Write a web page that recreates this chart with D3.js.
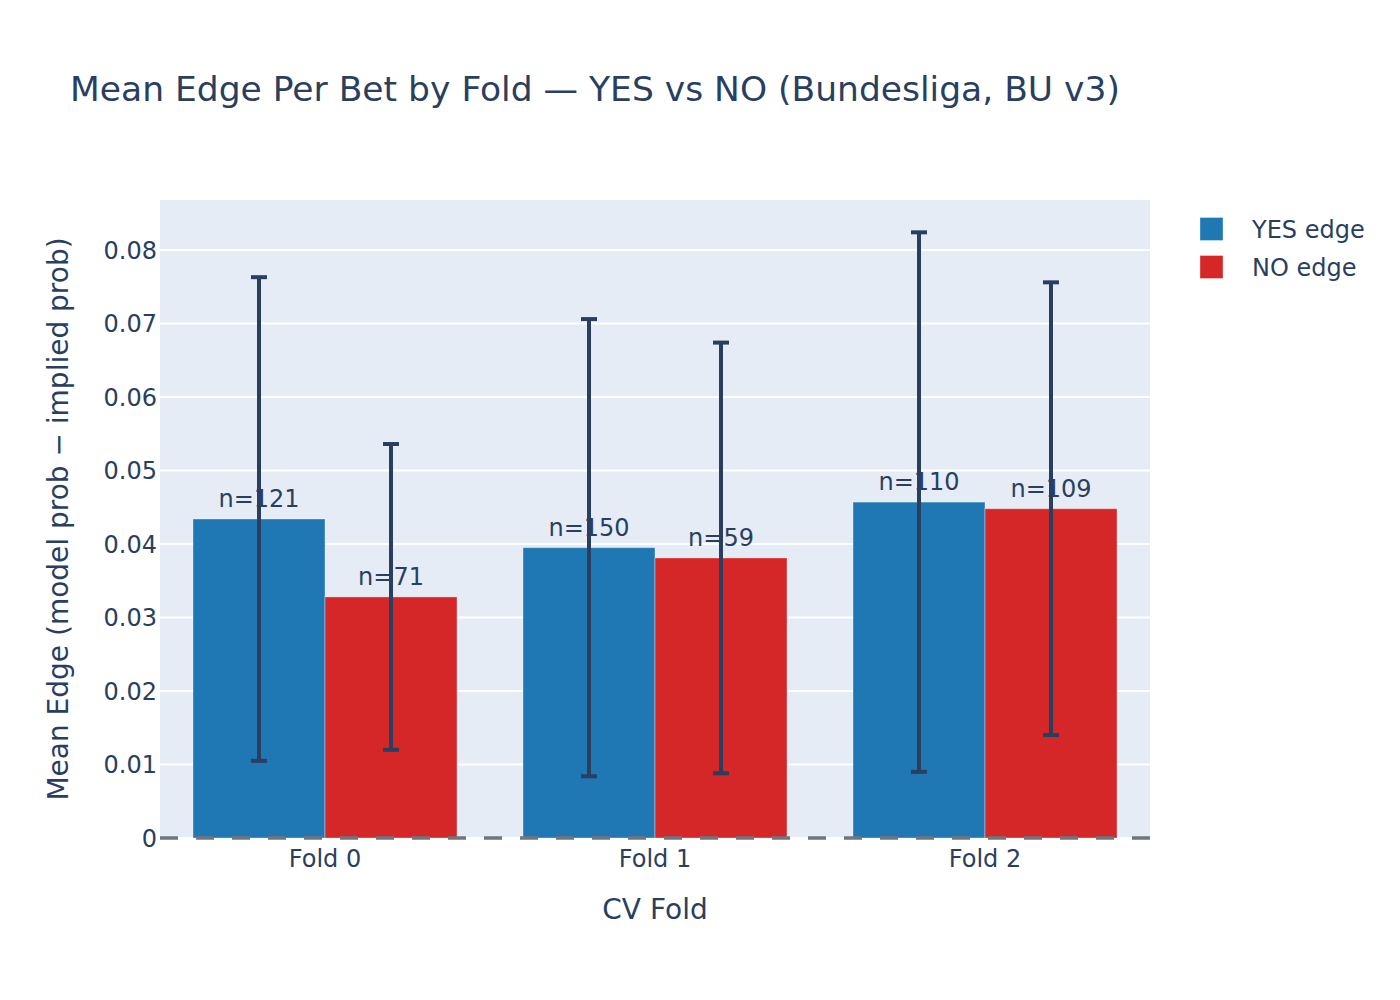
<!DOCTYPE html>
<meta charset="utf-8">
<style>
body { margin: 0; background: #fff; }
text { font-family: "DejaVu Sans", Verdana, sans-serif; fill: #2a3f5f; }
</style>
<svg></svg>
<script src="https://d3js.org/d3.v7.min.js"></script>
<script>

var folds = ["Fold 0", "Fold 1", "Fold 2"];
var seriesNames = ["YES edge", "NO edge"];
var yesMean = [0.0434, 0.0395, 0.0457];
var yesErr = [0.0329, 0.0311, 0.0367];
var yesN = [121, 150, 110];
var noMean = [0.0328, 0.0381, 0.0448];
var noErr = [0.0208, 0.0293, 0.0308];
var noN = [71, 59, 109];
var yTicks = [0, 0.01, 0.02, 0.03, 0.04, 0.05, 0.06, 0.07, 0.08];
var colors = ["#1f77b4", "#d62728"];

var width = 1400, height = 1000;
var margin = {top: 200, right: 250, bottom: 162, left: 160};

var svg = d3.select("svg")
    .attr("width", width)
    .attr("height", height);

var x = d3.scaleBand()
    .domain(folds)
    .range([margin.left, width - margin.right])
    .paddingInner(0.2)
    .paddingOuter(0.1);

var xs = d3.scaleBand()
    .domain(seriesNames)
    .range([0, x.bandwidth()]);

var y = d3.scaleLinear()
    .domain([0, 0.0868])
    .range([height - margin.bottom, margin.top]);

// plot background
svg.append("rect")
    .attr("x", margin.left)
    .attr("y", margin.top)
    .attr("width", width - margin.left - margin.right)
    .attr("height", height - margin.top - margin.bottom)
    .attr("fill", "#e5ecf6");

// grid
svg.append("g").selectAll("line")
    .data(yTicks)
  .enter().append("line")
    .attr("x1", margin.left)
    .attr("x2", width - margin.right)
    .attr("y1", function(d) { return y(d); })
    .attr("y2", function(d) { return y(d); })
    .attr("stroke", "#fff")
    .attr("stroke-width", 2);

var data = [];
folds.forEach(function(f, i) {
  data.push({fold: f, s: seriesNames[0], v: yesMean[i], e: yesErr[i], n: yesN[i], c: colors[0]});
  data.push({fold: f, s: seriesNames[1], v: noMean[i], e: noErr[i], n: noN[i], c: colors[1]});
});

function cx(d) { return x(d.fold) + xs(d.s) + xs.bandwidth() / 2; }

svg.append("g").selectAll("rect")
    .data(data)
  .enter().append("rect")
    .attr("x", function(d) { return x(d.fold) + xs(d.s); })
    .attr("y", function(d) { return y(d.v); })
    .attr("width", xs.bandwidth())
    .attr("height", function(d) { return y(0) - y(d.v); })
    .attr("fill", function(d) { return d.c; })
    .attr("stroke", "rgba(255,255,255,0.35)")
    .attr("stroke-width", 1);

// n labels
svg.append("g").selectAll("text")
    .data(data)
  .enter().append("text")
    .attr("x", cx)
    .attr("y", function(d) { return y(d.v) - 12; })
    .attr("text-anchor", "middle")
    .style("font-size", "24px")
    .text(function(d) { return "n=" + d.n; });

// zero line
svg.append("line")
    .attr("x1", margin.left)
    .attr("x2", width - margin.right)
    .attr("y1", y(0))
    .attr("y2", y(0))
    .attr("stroke", "#70757e")
    .attr("stroke-width", 3.5)
    .attr("stroke-dasharray", "18,18");

// error bars
var eb = svg.append("g").selectAll("g")
    .data(data)
  .enter().append("g")
    .attr("stroke", "#2a3f5f")
    .attr("stroke-width", 4);

eb.append("line")
    .attr("x1", cx).attr("x2", cx)
    .attr("y1", function(d) { return y(d.v + d.e); })
    .attr("y2", function(d) { return y(d.v - d.e); });
eb.append("line")
    .attr("x1", function(d) { return cx(d) - 8; })
    .attr("x2", function(d) { return cx(d) + 8; })
    .attr("y1", function(d) { return y(d.v + d.e); })
    .attr("y2", function(d) { return y(d.v + d.e); });
eb.append("line")
    .attr("x1", function(d) { return cx(d) - 8; })
    .attr("x2", function(d) { return cx(d) + 8; })
    .attr("y1", function(d) { return y(d.v - d.e); })
    .attr("y2", function(d) { return y(d.v - d.e); });

// y tick labels
svg.append("g").selectAll("text")
    .data(yTicks)
  .enter().append("text")
    .attr("x", margin.left - 3)
    .attr("y", function(d) { return y(d); })
    .attr("dy", "0.36em")
    .attr("text-anchor", "end")
    .style("font-size", "24px")
    .text(function(d) { return d === 0 ? "0" : d3.format(".2f")(d); });

// x tick labels
svg.append("g").selectAll("text")
    .data(folds)
  .enter().append("text")
    .attr("x", function(d) { return x(d) + x.bandwidth() / 2; })
    .attr("y", 867)
    .attr("text-anchor", "middle")
    .style("font-size", "24px")
    .text(function(d) { return d; });

// axis titles
svg.append("text")
    .attr("x", (margin.left + width - margin.right) / 2)
    .attr("y", 919)
    .attr("text-anchor", "middle")
    .style("font-size", "28px")
    .text("CV Fold");

svg.append("text")
    .attr("transform", "translate(68," + (margin.top + height - margin.bottom) / 2 + ") rotate(-90)")
    .attr("text-anchor", "middle")
    .style("font-size", "28px")
    .text("Mean Edge (model prob \u2212 implied prob)");

// title
svg.append("text")
    .attr("x", 70)
    .attr("y", 101)
    .style("font-size", "34.5px")
    .text("Mean Edge Per Bet by Fold \u2014 YES vs NO (Bundesliga, BU v3)");

// legend
var lg = svg.append("g").selectAll("g")
    .data(seriesNames)
  .enter().append("g")
    .attr("transform", function(d, i) { return "translate(1200," + (229 + i * 38) + ")"; });

lg.append("rect")
    .attr("x", 0)
    .attr("y", -11.5)
    .attr("width", 23)
    .attr("height", 23)
    .attr("fill", function(d, i) { return colors[i]; })
    .attr("stroke", "rgba(255,255,255,0.35)");

lg.append("text")
    .attr("x", 52)
    .attr("dy", "0.36em")
    .style("font-size", "24px")
    .text(function(d) { return d; });

</script>
